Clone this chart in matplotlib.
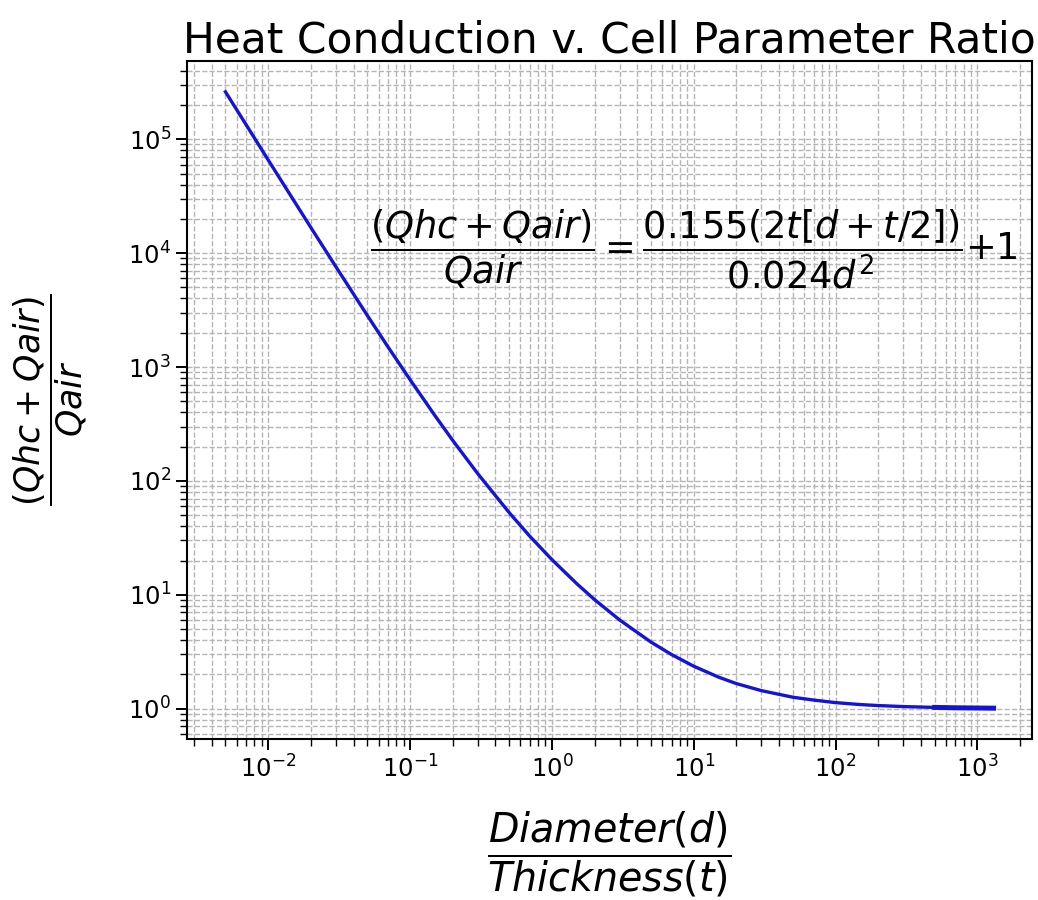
import matplotlib
matplotlib.use("Agg")
import matplotlib.pyplot as plt

# ratio d/t and the conduction ratio
ratio = [0.005, 0.007, 0.01, 0.015, 0.02, 0.03, 0.05, 0.07, 0.1, 0.15, 0.2,
         0.3, 0.5, 0.7, 1, 1.5, 2, 3, 5, 7, 10, 15, 20, 30, 50, 70, 100,
         150, 200, 300, 500, 700, 1000, 1300]
heat = [2.61e5, 1.34e5, 6.59e4, 2.96e4, 1.68e4, 7.61e3, 2.84e3, 1.50e3,
        776, 374, 227, 116, 52.7, 32.6, 20.4, 12.5, 9.07, 6.02, 3.84, 2.98,
        2.36, 1.89, 1.66, 1.44, 1.26, 1.19, 1.13, 1.086, 1.065, 1.043,
        1.026, 1.018, 1.013, 1.010]

# short overlapping segment at the far end
ratio_end = [500, 700, 1000, 1300]
heat_end = [1.026, 1.018, 1.013, 1.010]

fig = plt.figure(figsize=(10.38, 9.0), dpi=100)
ax = fig.add_axes([0.1802, 0.1789, 0.814, 0.7533])

ax.plot(ratio, heat, color="#1414d8", lw=2.4)
ax.plot(ratio_end, heat_end, color="#1414d8", lw=3.6)
ax.set_xscale("log")
ax.set_yscale("log")

ax.grid(True, which="both", ls="--", color="#b5b5b5", lw=1.0)
ax.tick_params(which="major", labelsize=17.5, length=8, width=1.4)
ax.tick_params(which="minor", length=5, width=1.0)
for s in ax.spines.values():
    s.set_linewidth(1.5)

ax.set_title("Heat Conduction v. Cell Parameter Ratio", fontsize=30.5)
ax.set_xlabel(r"$\dfrac{Diameter(d)}{Thickness(t)}$", fontsize=28.5, labelpad=20)
ax.set_ylabel(r"$\dfrac{(Qhc+Qair)}{Qair}$", fontsize=25, labelpad=28)

ax.text(10, 1.08e4, r"$\dfrac{(Qhc+Qair)}{Qair}=\dfrac{0.155(2t[d+t/2])}{0.024d^2}$+1",
        fontsize=26.5, ha="center", va="center")

fig.savefig("out.png", dpi=100)
